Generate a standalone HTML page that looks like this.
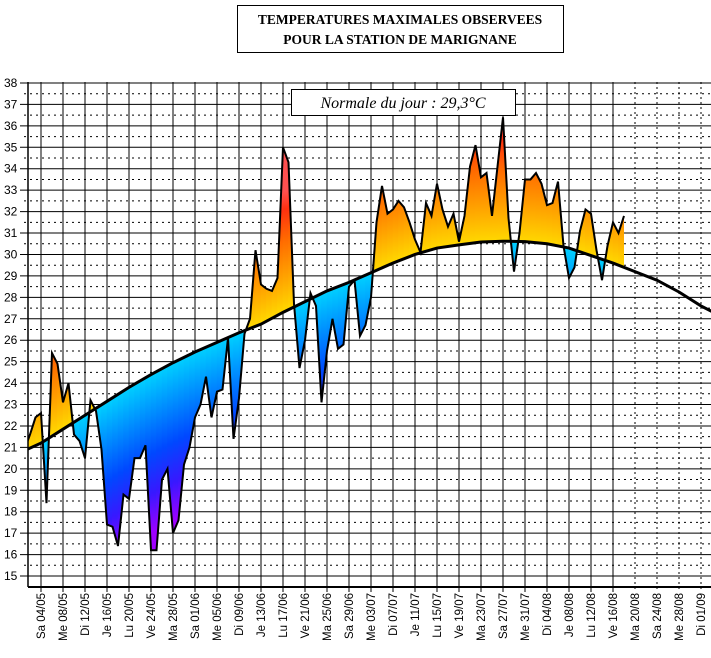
<!DOCTYPE html>
<html><head><meta charset="utf-8"><style>
html,body{margin:0;padding:0;background:#fff;width:711px;height:658px;overflow:hidden;}
svg{display:block;}
</style></head><body>
<svg id="chart" width="711" height="658" viewBox="0 0 711 658" xmlns="http://www.w3.org/2000/svg">
<defs>
<linearGradient id="gAbove" gradientUnits="userSpaceOnUse" x1="0" y1="0" x2="0" y2="-120">
<stop offset="0" stop-color="#ffd800"/>
<stop offset="0.3" stop-color="#ffa000"/>
<stop offset="0.6" stop-color="#ff6a00"/>
<stop offset="0.85" stop-color="#ff3010"/>
<stop offset="1" stop-color="#ff5050"/>
</linearGradient>
<linearGradient id="gBelow" gradientUnits="userSpaceOnUse" x1="0" y1="0" x2="0" y2="160">
<stop offset="0" stop-color="#00d0ff"/>
<stop offset="0.25" stop-color="#008cff"/>
<stop offset="0.5" stop-color="#0048ff"/>
<stop offset="0.75" stop-color="#3818ff"/>
<stop offset="1" stop-color="#a000ff"/>
</linearGradient>
<clipPath id="plotClip"><rect x="28" y="82" width="683" height="505"/></clipPath>
<clipPath id="areaClip"><path id="areaClipPath" d=""/></clipPath>
</defs>
<g id="grid"></g>
<g id="yLabels"></g>
<g id="xLabels"></g>
<g clip-path="url(#plotClip)"><g id="fills" clip-path="url(#areaClip)"></g></g>
<g clip-path="url(#plotClip)" id="lines"></g>
<line x1="28" y1="587" x2="711" y2="587" stroke="#000" stroke-width="2"/>
<line x1="28" y1="82" x2="28" y2="587" stroke="#000" stroke-width="1.5"/>
<g>
<rect x="237.5" y="5.5" width="326" height="47" fill="#fff" stroke="#000" stroke-width="1"/>
<text x="400" y="24" text-anchor="middle" font-family="Liberation Serif, serif" font-weight="bold" font-size="13.5">TEMPERATURES MAXIMALES OBSERVEES</text>
<text x="400" y="44" text-anchor="middle" font-family="Liberation Serif, serif" font-weight="bold" font-size="13.5">POUR LA STATION DE MARIGNANE</text>
</g>
<g>
<rect x="291.5" y="89.5" width="224" height="26" fill="#fff" stroke="#000" stroke-width="1"/>
<text x="403" y="108" text-anchor="middle" font-family="Liberation Serif, serif" font-style="italic" font-size="16">Normale du jour : 29,3°C</text>
</g>
</svg>
<script>
const obsStartDay = -3;
const obsValues = [20.9,21.6,22.4,22.6,18.4,25.4,24.9,23.1,24.0,21.6,21.3,20.5,23.2,22.7,20.9,17.4,17.3,16.4,18.8,18.6,20.5,20.5,21.1,16.2,16.2,19.5,20.0,17.0,17.6,20.2,21.0,22.4,23.0,24.3,22.4,23.6,23.7,26.1,21.4,23.3,26.3,27.0,30.2,28.6,28.4,28.3,28.9,35.0,34.3,27.7,24.7,26.0,28.2,27.6,23.1,25.5,27.0,25.6,25.8,28.5,28.8,26.2,26.7,28.0,31.5,33.2,31.9,32.1,32.5,32.2,31.5,30.7,30.1,32.4,31.8,33.3,32.1,31.3,31.9,30.6,31.8,34.1,35.1,33.6,33.8,31.8,34.1,36.4,31.7,29.2,31.0,33.5,33.5,33.8,33.3,32.3,32.4,33.4,30.4,28.9,29.4,31.1,32.1,31.9,30.2,28.8,30.4,31.5,31.0,31.8];
const normalDays = [-3,0,4,8,12,16,20,24,28,32,36,40,44,48,52,56,60,64,68,72,76,80,84,88,92,96,100,104,108,112,116,120,123];
const normalValues = [20.85,21.2,21.85,22.5,23.15,23.8,24.4,24.95,25.45,25.9,26.35,26.75,27.3,27.8,28.3,28.7,29.15,29.6,30.0,30.3,30.45,30.58,30.62,30.6,30.5,30.3,29.95,29.6,29.2,28.8,28.25,27.6,27.2];
const tickLabels = ["Sa 04/05","Me 08/05","Di 12/05","Je 16/05","Lu 20/05","Ve 24/05","Ma 28/05","Sa 01/06","Me 05/06","Di 09/06","Je 13/06","Lu 17/06","Ve 21/06","Ma 25/06","Sa 29/06","Me 03/07","Di 07/07","Je 11/07","Lu 15/07","Ve 19/07","Ma 23/07","Sa 27/07","Me 31/07","Di 04/08","Je 08/08","Lu 12/08","Ve 16/08","Ma 20/08","Sa 24/08","Me 28/08","Di 01/09"];
const yTicks = [15,16,17,18,19,20,21,22,23,24,25,26,27,28,29,30,31,32,33,34,35,36,37,38];
const solidTickCount = 27;

const NS = "http://www.w3.org/2000/svg";
function X(d){ return 41 + 5.5*d; }
function Y(v){ return 83 + (38 - v)*21.435; }
function normalAt(d){
  for(let i=0;i<normalDays.length-1;i++){
    if(d>=normalDays[i] && d<=normalDays[i+1]){
      const t=(d-normalDays[i])/(normalDays[i+1]-normalDays[i]);
      return normalValues[i]+t*(normalValues[i+1]-normalValues[i]);
    }
  }
  return normalValues[normalValues.length-1];
}
function mk(tag, attrs, parent){
  const e=document.createElementNS(NS,tag);
  for(const k in attrs) e.setAttribute(k, attrs[k]);
  parent.appendChild(e); return e;
}
const grid=document.getElementById('grid');
yTicks.forEach(v=>{
  const l=mk('line',{x1:20,x2:711,y1:Y(v),y2:Y(v),stroke:'#000','stroke-width':1},grid);
  
  
  if(v<38){
    const h=mk('line',{x1:24,x2:711,y1:Y(v+0.5),y2:Y(v+0.5),stroke:'#000','stroke-width':1,'stroke-dasharray':'2,4'},grid);
    
    
  }
});
tickLabels.forEach((t,k)=>{
  const x=X(4*k);
  const attrs={x1:x,x2:x,y1:82,y2:592,stroke:'#000','stroke-width':1};
  if(k>=solidTickCount) attrs['stroke-dasharray']='2,3';
  const l=mk('line',attrs,grid);
  
  
});
const yl=document.getElementById('yLabels');
yTicks.forEach(v=>{
  const t=mk('text',{x:4,y:Y(v)+4,'font-family':'Liberation Sans, sans-serif','font-size':12},yl);
  t.textContent=String(v);
  
  
});
const xl=document.getElementById('xLabels');
tickLabels.forEach((s,k)=>{
  const x=X(4*k)+4;
  const t=mk('text',{x:x,y:593,transform:'rotate(-90 '+x+' 593)','text-anchor':'end','font-family':'Liberation Sans, sans-serif','font-size':11.5},xl);
  t.textContent=s;
  
  
});
const pts=obsValues.map((v,i)=>[X(obsStartDay+i),Y(v)]);
let d='M'+pts.map(p=>p[0].toFixed(2)+','+p[1].toFixed(2)).join(' L');
for(let i=obsValues.length-1;i>=0;i--){
  const dd=obsStartDay+i;
  d+=' L'+X(dd).toFixed(2)+','+Y(normalAt(dd)).toFixed(2);
}
d+=' Z';
document.getElementById('areaClipPath').setAttribute('d',d);
const fills=document.getElementById('fills');
for(let i=0;i<obsValues.length-1;i++){
  const dd=obsStartDay+i;
  const yn=Y(normalAt(dd+0.5));
  const g=mk('g',{transform:'translate(0,'+yn.toFixed(2)+')'},fills);
  const a=mk('rect',{x:X(dd)-0.3,y:-400,width:6.1,height:400,fill:'url(#gAbove)'},g);
  
  
  const b=mk('rect',{x:X(dd)-0.3,y:0,width:6.1,height:400,fill:'url(#gBelow)'},g);
  
  
}
const lines=document.getElementById('lines');
const obsLine=mk('polyline',{points:pts.map(p=>p[0].toFixed(2)+','+p[1].toFixed(2)).join(' '),fill:'none',stroke:'#000','stroke-width':2,'stroke-linejoin':'miter'},lines);


const nPts=normalDays.map((dd,i)=>X(dd).toFixed(2)+','+Y(normalValues[i]).toFixed(2)).join(' ');
const nLine=mk('polyline',{points:nPts,fill:'none',stroke:'#000','stroke-width':3},lines);


</script>
</body></html>
